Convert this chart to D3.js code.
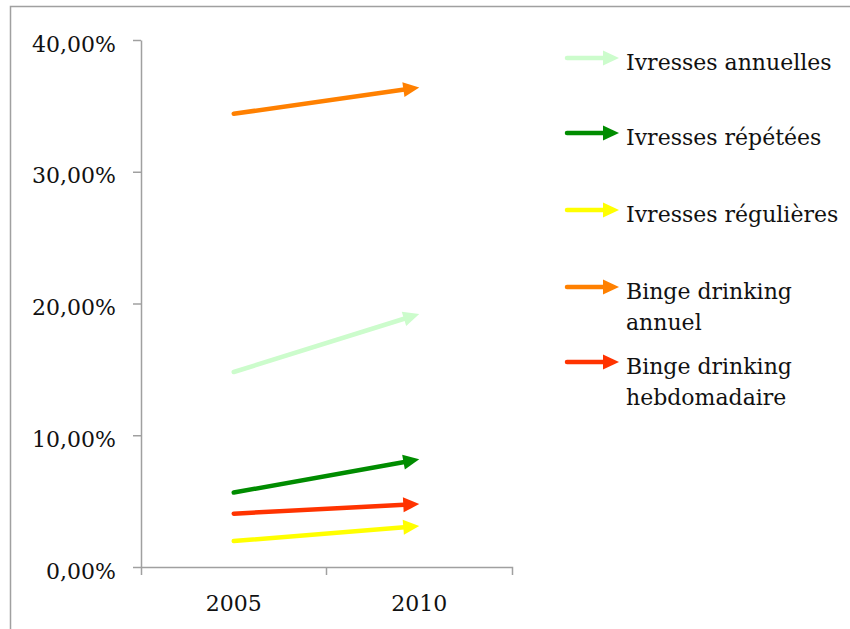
<!DOCTYPE html>
<html><head><meta charset="utf-8">
<script src="https://cdn.jsdelivr.net/npm/d3@7"></script>
<style>body{margin:0;background:#fff}svg{display:block}text{font-family:"DejaVu Serif",serif;fill:#111}</style>
</head><body><svg id="c" width="850" height="629"></svg>
<script>
const years = ["2005", "2010"];
const seriesNames = ["Ivresses annuelles", "Ivresses répétées", "Ivresses régulières", "Binge drinking annuel", "Binge drinking hebdomadaire"];
const legendLines = [["Ivresses annuelles"], ["Ivresses répétées"], ["Ivresses régulières"], ["Binge drinking", "annuel"], ["Binge drinking", "hebdomadaire"]];
const values2005 = [0.148, 0.0565, 0.0197, 0.344, 0.0405];
const values2010 = [0.192, 0.0817, 0.0311, 0.364, 0.0478];
const colors = ["#ccfccc", "#008c00", "#ffff00", "#ff8000", "#ff3300"];
const yTicks = [0, 0.1, 0.2, 0.3, 0.4];
const fmt = v => (v * 100).toFixed(2).replace(".", ",") + "%";

const svg = d3.select("#c");
// frame
svg.append("path").attr("d", "M10.5,629V6.5H850").attr("fill", "none").attr("stroke", "#a0a0a0").attr("stroke-width", 1.5);

const x = d3.scaleBand().domain(years).range([141, 512]).padding(0);
const y = d3.scaleLinear().domain([0, 0.4]).range([567, 40]);
const axisColor = "#a0a0a0";

const gy = svg.append("g").attr("transform", "translate(141,0)")
  .call(d3.axisLeft(y).tickValues(yTicks).tickFormat(fmt).tickSize(8).tickSizeOuter(0).tickPadding(17));
const gx = svg.append("g").attr("transform", "translate(0,567)")
  .call(d3.axisBottom(x).tickSize(0).tickSizeOuter(8).tickPadding(24));
gx.append("line").attr("x1", x("2010")).attr("x2", x("2010")).attr("y1", 0).attr("y2", 8);
[gy, gx].forEach(g => {
  g.selectAll("path,line").attr("stroke", axisColor).attr("stroke-width", 1.5);
  g.selectAll("text").style("font-family", '"DejaVu Serif",serif').style("font-size", "22px").attr("fill", "#111");
});
gy.selectAll("text").attr("dy", "0.5em");
gx.selectAll("text").attr("dy", "0.9em");

function arrow(g, x0, y0, x1, y1, color) {
  const dx = x1 - x0, dy = y1 - y0, L = Math.hypot(dx, dy);
  const ux = dx / L, uy = dy / L, hl = 16, hw = 7.5;
  const bx = x1 - ux * hl, by = y1 - uy * hl;
  g.append("line").attr("x1", x0).attr("y1", y0).attr("x2", bx + ux).attr("y2", by + uy)
    .attr("stroke", color).attr("stroke-width", 4.5).attr("stroke-linecap", "round");
  g.append("path").attr("d", `M${x1},${y1}L${bx - uy * hw},${by + ux * hw}L${bx + uy * hw},${by - ux * hw}Z`).attr("fill", color);
}

const cx = d => x(d) + x.bandwidth() / 2;
const marks = svg.append("g");
seriesNames.forEach((s, i) => {
  arrow(marks, cx("2005"), y(values2005[i]), cx("2010"), y(values2010[i]), colors[i]);
});

// legend
const legY = [58, 133, 210, 287, 362];
const leg = svg.append("g");
seriesNames.forEach((s, i) => {
  arrow(leg, 567, legY[i], 619, legY[i], colors[i]);
  legendLines[i].forEach((t, j) => {
    leg.append("text").attr("x", 626).attr("y", legY[i] + 12 + j * 31).style("font-size", "22px").text(t);
  });
});
</script></body></html>
